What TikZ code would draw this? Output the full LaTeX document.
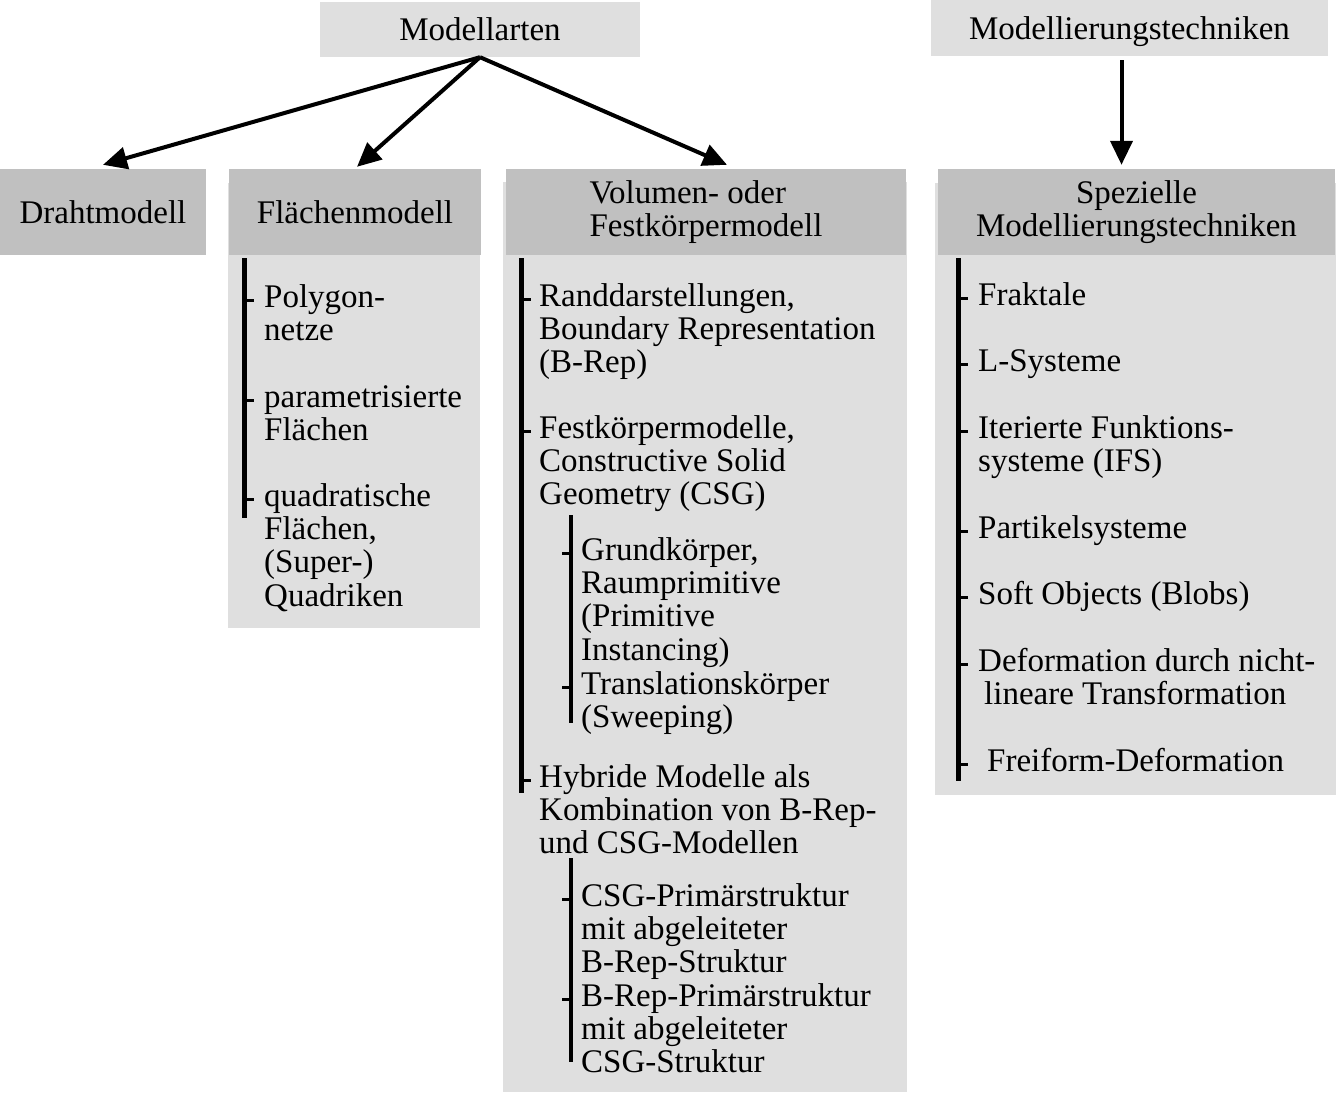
\documentclass[tikz,border=0pt]{standalone}
\usepackage{fontspec}
\setmainfont{Liberation Serif}
\usetikzlibrary{arrows.meta}
\definecolor{hellgrau}{RGB}{223,223,223}
\definecolor{dunkelgrau}{RGB}{192,192,192}

\begin{document}
\begin{tikzpicture}[x=1pt, y=-1pt,
    every node/.style={font=\fontsize{33}{33.4}\selectfont, inner sep=0pt},
    feld/.style={fill=hellgrau},
    kopf/.style={fill=dunkelgrau, minimum height=86},
    eintrag/.style={align=left, anchor=base west},
    pfeil/.style={line width=4pt, -{Triangle[length=24pt, width=22pt]}},
    balken/.style={line width=5pt},
    haken/.style={line width=3pt}]
  \useasboundingbox (0,0) rectangle (1337,1094);

  % obere Kaesten
  \node[feld, minimum width=320, minimum height=55] (arten) at (480,29.5) {Modellarten};
  \node[feld, minimum width=397, minimum height=56, text depth=0pt] (technik) at (1129.5,28) {Modellierungstechniken};

  % Spalten
  \node[feld, anchor=north west, minimum width=252, minimum height=445] (flkoerper) at (228,183) {};
  \node[feld, anchor=north west, minimum width=404, minimum height=910] (volkoerper) at (503,182) {};
  \node[feld, anchor=north west, minimum width=401, minimum height=612] (spezkoerper) at (935,183) {};

  \node[kopf, minimum width=206] (draht) at (103,212) {Drahtmodell};
  \node[kopf, minimum width=252] (flaeche) at (355,212) {Flächenmodell};
  \node[kopf, minimum width=400, align=left] (vol) at (706,212) {Volumen- oder\\Festkörpermodell};
  \node[kopf, minimum width=397, align=center] (spez) at (1136.5,212) {Spezielle\\Modellierungstechniken};

  \draw[pfeil] (arten.south) -- ([yshift=4pt]draht.north);
  \draw[pfeil] (arten.south) -- ([xshift=2pt, yshift=2pt]flaeche.north);
  \draw[pfeil] (arten.south) -- ([xshift=21pt, yshift=4pt]vol.north);
  \draw[pfeil] ([xshift=-8pt, yshift=-4pt]technik.south) -- ([xshift=-15pt, yshift=4pt]spez.north);

  % Flaechenmodell (Anker: Grundlinie der letzten Zeile)
  \node[eintrag] (fl1) at (264,340.4) {Polygon-\\netze};
  \node[eintrag] (fl2) at (264,440.4) {parametrisierte\\Flächen};
  \node[eintrag] (fl3) at (264,606.2) {quadratische\\Flächen,\\(Super-)\\Quadriken};
  \draw[balken] (244,258) -- (244,518);
  \draw[haken] (244,300) -- (254,300) (244,400) -- (254,400) (244,499) -- (254,499);

  % Volumenmodell
  \node[eintrag] (v1) at (539,372.8) {Randdarstellungen,\\Boundary Representation\\(B-Rep)};
  \node[eintrag] (v2) at (539,504.8) {Festkörpermodelle,\\Constructive Solid\\Geometry (CSG)};
  \node[eintrag] (v21) at (581,660.2) {Grundkörper,\\Raumprimitive\\(Primitive\\Instancing)};
  \node[eintrag] (v22) at (581,727.4) {Translationskörper\\(Sweeping)};
  \node[eintrag] (v3) at (539,853.8) {Hybride Modelle als\\Kombination von B-Rep-\\und CSG-Modellen};
  \node[eintrag] (v31) at (581,972.8) {CSG-Primärstruktur\\mit abgeleiteter\\B-Rep-Struktur};
  \node[eintrag] (v32) at (581,1072.8) {B-Rep-Primärstruktur\\mit abgeleiteter\\CSG-Struktur};
  \draw[balken] (521,258) -- (521,793);
  \draw[haken] (521,299) -- (531,299) (521,431) -- (531,431) (521,780) -- (531,780);
  \draw[balken, line width=4pt] (571,515) -- (571,723);
  \draw[haken] (562,553) -- (571,553) (562,687) -- (571,687);
  \draw[balken, line width=4pt] (571,858) -- (571,1062);
  \draw[haken] (562,899) -- (571,899) (562,999) -- (571,999);

  % Spezielle Techniken
  \node[eintrag] (s1) at (978,305) {Fraktale};
  \node[eintrag] (s2) at (978,371) {L-Systeme};
  \node[eintrag] (s3) at (978,471.4) {Iterierte Funktions-\\systeme (IFS)};
  \node[eintrag] (s4) at (978,538) {Partikelsysteme};
  \node[eintrag] (s5) at (978,604) {Soft Objects (Blobs)};
  \node[eintrag] (s6) at (978,704.4) {Deformation durch nicht-\\\hspace*{6pt}lineare Transformation};
  \node[eintrag] (s7) at (987,771) {Freiform-Deformation};
  \draw[balken] (958,258) -- (958,781);
  \draw[haken] (958,298) -- (968,298) (958,364) -- (968,364) (958,431) -- (968,431)
    (958,531) -- (968,531) (958,597) -- (968,597) (958,664) -- (968,664) (958,764) -- (968,764);
\end{tikzpicture}
\end{document}
